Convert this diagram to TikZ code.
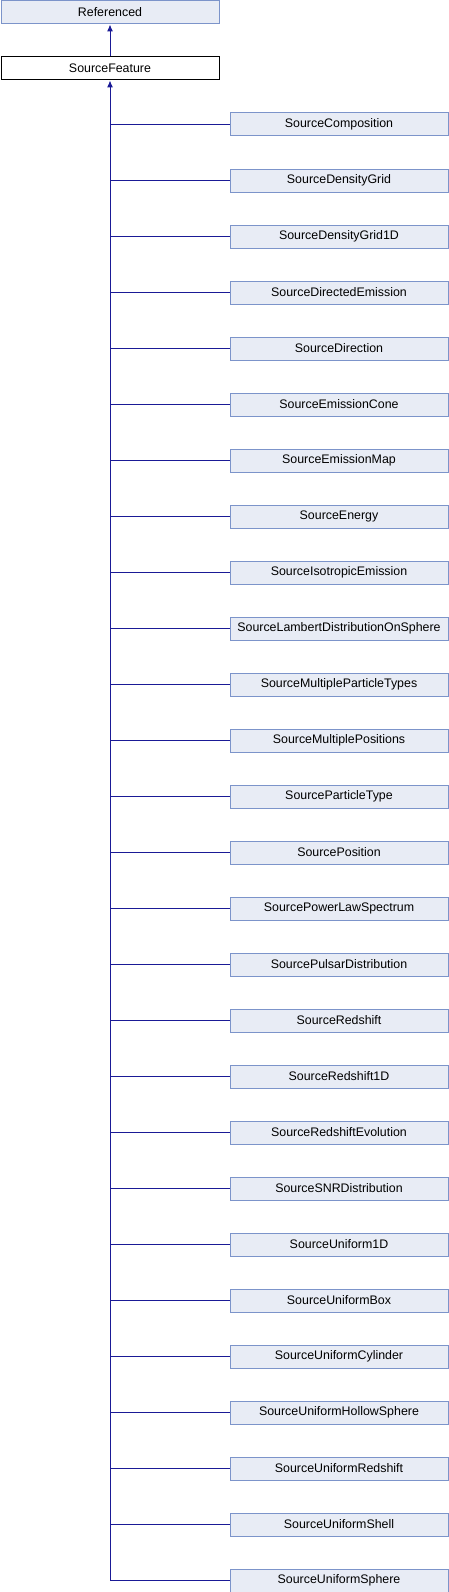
\documentclass[tikz,border=0pt]{standalone}
\usepackage{fontspec}
\setmainfont{Liberation Sans}
\usetikzlibrary{arrows.meta}
\definecolor{edgeblue}{RGB}{26,26,150}
\definecolor{boxfill}{RGB}{232,236,245}
\definecolor{boxline}{RGB}{124,148,202}
\tikzset{
  cls/.style={draw=boxline, fill=boxfill, line width=1pt, minimum width=218pt, minimum height=23pt,
    inner sep=0pt, anchor=north west, font=\fontsize{12.4}{14}\selectfont},
  cur/.style={cls, draw=black, fill=white},
  inh/.style={draw=edgeblue, line width=1pt},
  inharrow/.style={inh, -{Latex[length=7pt,width=6pt]}},
}
\begin{document}
\begin{tikzpicture}[x=1pt,y=-1pt]
\useasboundingbox (0,0) rectangle (448,1592);
\node[cls] (ref) at (0.5,0.5) {Referenced};
\node[cur] (sf) at (0.5,56.5) {SourceFeature};
\draw[inharrow] (sf.north) -- (ref.south);
\foreach \nm [count=\i from 0] in {SourceComposition,SourceDensityGrid,SourceDensityGrid1D,SourceDirectedEmission,SourceDirection,SourceEmissionCone,SourceEmissionMap,SourceEnergy,SourceIsotropicEmission,SourceLambertDistributionOnSphere,SourceMultipleParticleTypes,SourceMultiplePositions,SourceParticleType,SourcePosition,SourcePowerLawSpectrum,SourcePulsarDistribution,SourceRedshift,SourceRedshift1D,SourceRedshiftEvolution,SourceSNRDistribution,SourceUniform1D,SourceUniformBox,SourceUniformCylinder,SourceUniformHollowSphere,SourceUniformRedshift,SourceUniformShell,SourceUniformSphere} {
  \node[cls] (c\i) at (229.5,112.5+56*\i) {\nm};
  \draw[inh] (c\i.west) -- (c\i.west -| sf.south);
}
\draw[inharrow] (c26.west -| sf.south) -- (sf.south);
\end{tikzpicture}
\end{document}
